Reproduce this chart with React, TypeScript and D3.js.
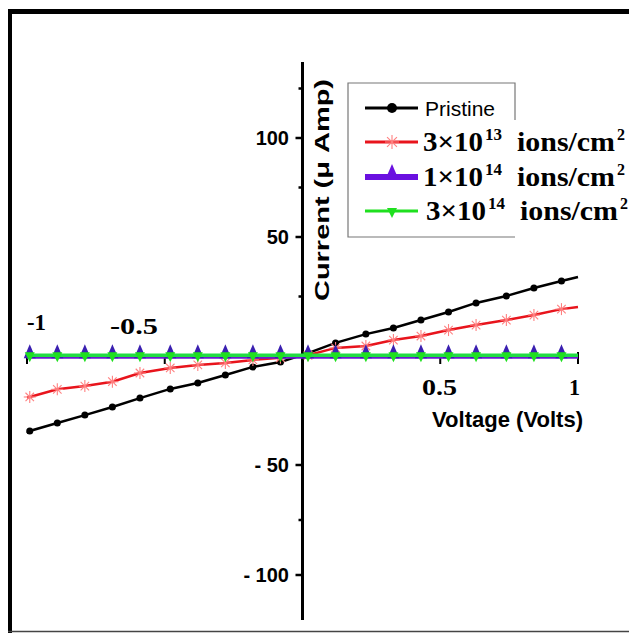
import React from "react";
import * as d3 from "d3";

const VOLTS = [-1, -0.99, -0.89, -0.79, -0.69, -0.59, -0.48, -0.38, -0.28, -0.18, -0.08, 0.02, 0.12, 0.23, 0.33, 0.43, 0.53, 0.63, 0.74, 0.84, 0.94, 1];
const PRISTINE = [-35.3, -34.4, -30.7, -27.1, -23.4, -19.3, -15.1, -12.4, -8.7, -5.0, -2.8, 1.2, 5.5, 9.2, 11.8, 15.1, 18.5, 22.3, 25.2, 28.6, 31.5, 33.2];
const DOSE_3E13 = [-19.0, -18.8, -15.3, -13.8, -11.8, -7.8, -5.5, -4.1, -3.2, -1.8, -0.8, 0.3, 3.4, 4.2, 6.7, 8.4, 10.9, 13.0, 15.1, 17.2, 19.7, 20.6];
const DOSE_1E14 = [-0.6, -0.6, -0.6, -0.6, -0.6, -0.6, -0.6, -0.6, -0.6, -0.6, -0.6, -0.6, -0.6, -0.6, -0.6, -0.6, -0.6, -0.6, -0.6, -0.6, -0.6, -0.6];
const DOSE_3E14 = [0.3, 0.3, 0.3, 0.3, 0.3, 0.3, 0.3, 0.3, 0.3, 0.3, 0.3, 0.3, 0.3, 0.3, 0.3, 0.3, 0.3, 0.3, 0.3, 0.3, 0.3, 0.3];

const Y_TICK_MAJOR = [100, 50, -50, -100];
const Y_TICK_LABELS = ["100", "50", "- 50", "- 100"];
const Y_TICK_MINOR = [125, 75, 25, -75];
const X_TICKS = [-1, -0.5, 0.5, 1];
const X_TICK_LABELS = ["-1", "-0.5", "0.5", "1"];
const LEGEND_NAMES = ["Pristine", "3×10", "1×10", "3×10"];
const LEGEND_EXPS = ["", "13", "14", "14"];

const x = d3.scaleLinear().domain([-1, 1]).range([27, 578]);
const y = d3.scaleLinear().domain([-100, -50, 0, 50, 100]).range([575, 465, 356, 237, 138]);

const ARIAL = "'Liberation Sans', Arial, sans-serif";
const TIMES = "'Liberation Serif', 'Times New Roman', serif";

function linePath(vals: number[]) {
  const pts = vals.map((v, i) => [VOLTS[i], v] as [number, number]);
  return d3.line<[number, number]>().x((d) => x(d[0])).y((d) => y(d[1]))(pts) || "";
}

function Star({ cx, cy, r = 6 }: { cx: number; cy: number; r?: number }) {
  const angles = [0, 45, 90, 135];
  return (
    <g stroke="#ff8080" strokeWidth={1.1}>
      {angles.map((a) => {
        const rad = (a * Math.PI) / 180;
        return <line key={a} x1={cx - r * Math.cos(rad)} y1={cy - r * Math.sin(rad)} x2={cx + r * Math.cos(rad)} y2={cy + r * Math.sin(rad)} />;
      })}
    </g>
  );
}

function TriUp({ cx, cy, fill }: { cx: number; cy: number; fill: string }) {
  return <path d={`M${cx},${cy - 13} L${cx + 6},${cy + 1} L${cx - 6},${cy + 1} Z`} fill={fill} />;
}
function TriDown({ cx, cy, fill }: { cx: number; cy: number; fill: string }) {
  return <path d={`M${cx - 5},${cy - 3} L${cx + 5},${cy - 3} L${cx},${cy + 7} Z`} fill={fill} />;
}

function DoseLabel({ xx, yy, mant, exp }: { xx: number; yy: number; mant: string; exp: string }) {
  const common = { fontFamily: TIMES, fontWeight: "bold" as const, fill: "#000", lengthAdjust: "spacingAndGlyphs" };
  return (
    <g>
      <text x={xx} y={yy} fontSize={27} textLength={60} {...common}>{mant}</text>
      <text x={xx + 62} y={yy - 11} fontSize={16} textLength={17} {...common}>{exp}</text>
      <text x={xx + 94} y={yy} fontSize={27} textLength={98} {...common}>ions/cm</text>
      <text x={xx + 194} y={yy - 11} fontSize={16} {...common}>2</text>
    </g>
  );
}

export default function App() {
  const markerIdx = VOLTS.map((_, i) => i).filter((i) => i > 0 && i < VOLTS.length - 1);
  const x0 = x(0);
  const y0 = y(0);
  const legX1 = 365, legX2 = 418, legM = 392;
  const rows = [108, 142, 177, 211];
  return (
    <svg width={629} height={634} style={{ position: "absolute", left: 0, top: 0, background: "#fff" }}>
      {/* frame */}
      <line x1={8} y1={11.5} x2={629} y2={11.5} stroke="#000" strokeWidth={5} />
      <line x1={10} y1={9} x2={10} y2={633} stroke="#000" strokeWidth={4} />
      <line x1={8} y1={631.5} x2={629} y2={631.5} stroke="#444" strokeWidth={1.5} />

      {/* x axis */}
      <line x1={x(-1) - 2} y1={y0} x2={x(1)} y2={y0} stroke="#000" strokeWidth={2} />
      {X_TICKS.map((t) => (
        <line key={t} x1={x(t)} y1={t === 1 ? y0 - 4 : y0} x2={x(t)} y2={y0 + 8} stroke="#000" strokeWidth={2} />
      ))}
      {/* y axis */}
      <line x1={x0} y1={62} x2={x0} y2={620} stroke="#000" strokeWidth={3} />
      {Y_TICK_MAJOR.map((t) => (
        <line key={t} x1={x0 - 7} y1={y(t)} x2={x0} y2={y(t)} stroke="#000" strokeWidth={2.5} />
      ))}
      {Y_TICK_MINOR.map((t) => (
        <line key={t} x1={x0 - 4} y1={y(t)} x2={x0} y2={y(t)} stroke="#000" strokeWidth={2.5} />
      ))}
      {Y_TICK_MAJOR.map((t, i) => (
        <text key={t} x={289} y={y(t) + 7} textAnchor="end" fontFamily={ARIAL} fontWeight="bold" fontSize={20} fill="#000">
          {Y_TICK_LABELS[i]}
        </text>
      ))}

      {/* x tick labels */}
      <text x={27} y={330} fontFamily={TIMES} fontWeight="bold" fontSize={24} textLength={19} lengthAdjust="spacingAndGlyphs">{X_TICK_LABELS[0]}</text>
      <text x={110} y={334} fontFamily={TIMES} fontWeight="bold" fontSize={24} textLength={48} lengthAdjust="spacingAndGlyphs">{X_TICK_LABELS[1]}</text>
      <text x={422} y={395} fontFamily={TIMES} fontWeight="bold" fontSize={24} textLength={35} lengthAdjust="spacingAndGlyphs">{X_TICK_LABELS[2]}</text>
      <text x={569} y={395} fontFamily={TIMES} fontWeight="bold" fontSize={24} textLength={11} lengthAdjust="spacingAndGlyphs">{X_TICK_LABELS[3]}</text>

      {/* axis titles */}
      <text x={432} y={427} fontFamily={ARIAL} fontWeight="bold" fontSize={22} textLength={151} lengthAdjust="spacingAndGlyphs">Voltage (Volts)</text>
      <text transform="translate(329,190) rotate(-90)" textAnchor="middle" fontFamily={ARIAL} fontWeight="bold" fontSize={21} textLength={222} lengthAdjust="spacingAndGlyphs">Current (μ Amp)</text>

      {/* series */}
      <path d={linePath(PRISTINE)} fill="none" stroke="#000" strokeWidth={2.5} />
      {markerIdx.map((i) => (
        <circle key={"b" + i} cx={x(VOLTS[i])} cy={y(PRISTINE[i])} r={3.5} fill="#000" />
      ))}
      <path d={linePath(DOSE_3E13)} fill="none" stroke="#e8141c" strokeWidth={2.5} />
      {markerIdx.map((i) => (
        <Star key={"r" + i} cx={x(VOLTS[i])} cy={y(DOSE_3E13[i])} />
      ))}
      <path d={linePath(DOSE_1E14)} fill="none" stroke="#6a1ad0" strokeWidth={3} />
      {markerIdx.map((i) => (
        <TriUp key={"u" + i} cx={x(VOLTS[i])} cy={y(DOSE_1E14[i])} fill="#3a1fb0" />
      ))}
      <path d={linePath(DOSE_3E14)} fill="none" stroke="#22dd44" strokeWidth={3.5} />
      {markerIdx.map((i) => (
        <TriDown key={"g" + i} cx={x(VOLTS[i])} cy={y(DOSE_3E14[i])} fill="#1fe01f" />
      ))}

      {/* legend */}
      <rect x={348} y={83} width={167} height={154} fill="#fff" stroke="none" />
      <path d="M515,120 L515,83 L348,83 L348,237 L515,237" fill="none" stroke="#777" strokeWidth={1.2} />
      <line x1={legX1} y1={rows[0]} x2={legX2} y2={rows[0]} stroke="#000" strokeWidth={3} />
      <circle cx={legM} cy={rows[0]} r={5} fill="#000" />
      <text x={425} y={rows[0] + 8} fontFamily={ARIAL} fontSize={21} textLength={70} lengthAdjust="spacingAndGlyphs">{LEGEND_NAMES[0]}</text>

      <line x1={legX1} y1={rows[1]} x2={legX2} y2={rows[1]} stroke="#e8141c" strokeWidth={3} />
      <Star cx={legM} cy={rows[1]} r={7} />
      <DoseLabel xx={423} yy={rows[1] + 9} mant={LEGEND_NAMES[1]} exp={LEGEND_EXPS[1]} />

      <line x1={legX1} y1={rows[2]} x2={legX2} y2={rows[2]} stroke="#6a10e0" strokeWidth={6} />
      <TriUp cx={legM} cy={rows[2]} fill="#6a10e0" />
      <DoseLabel xx={423} yy={rows[2] + 9} mant={LEGEND_NAMES[2]} exp={LEGEND_EXPS[2]} />

      <line x1={legX1} y1={rows[3]} x2={legX2} y2={rows[3]} stroke="#1fe01f" strokeWidth={3} />
      <TriDown cx={legM} cy={rows[3]} fill="#1fe01f" />
      <DoseLabel xx={426} yy={rows[3] + 9} mant={LEGEND_NAMES[3]} exp={LEGEND_EXPS[3]} />
    </svg>
  );
}
